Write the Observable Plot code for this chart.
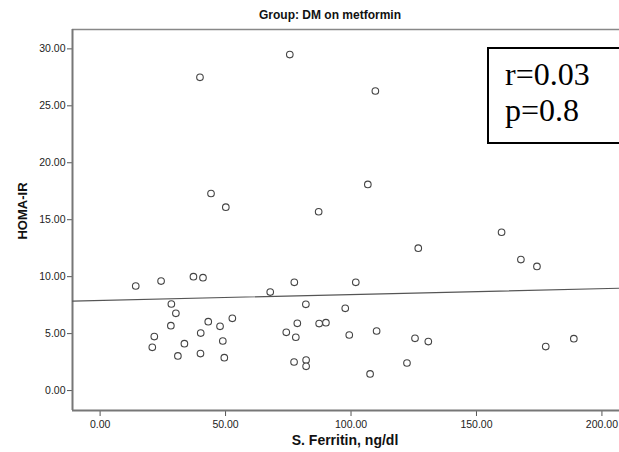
<!DOCTYPE html>
<html><head><meta charset="utf-8">
<script src="https://cdn.jsdelivr.net/npm/d3@7"></script>
<script src="https://cdn.jsdelivr.net/npm/@observablehq/plot@0.6"></script>
<style>
body{margin:0;background:#fff;font-family:Arial,"Liberation Sans",sans-serif}
#wrap{position:relative;width:619px;height:452px;overflow:hidden;background:#fff}
#wrap svg{position:absolute;left:0;top:0}
.t{position:absolute;white-space:nowrap;font-weight:bold;color:#111;transform:translate(-50%,-50%)}
#box{position:absolute;left:487px;top:47px;width:200px;height:97px;border:2px solid #000;background:#fff;
 font-family:"Liberation Serif","Times New Roman",serif;font-size:32px;line-height:36px;color:#000;padding:7px 0 0 16px;box-sizing:border-box}
</style></head><body>
<div id="wrap"></div>
<script>
const ferritin = [44.2,50.1,87.1,14.2,24.3,37.2,41.0,67.8,77.4,28.4,30.2,82.0,97.7,52.7,43.1,47.8,28.2,78.6,87.3,90.0,40.1,21.6,74.2,78.0,99.3,48.9,33.6,20.8,31.0,40.0,49.5,77.3,82.1,82.1,75.6,39.8,109.7,106.7,160.0,126.8,167.7,174.1,101.9,110.2,125.5,130.8,177.6,188.8,122.3,107.6];
const homa     = [17.3,16.1,15.7,9.18,9.61,10.0,9.91,8.65,9.5,7.6,6.78,7.57,7.22,6.34,6.05,5.64,5.7,5.9,5.88,5.96,5.05,4.74,5.11,4.68,4.88,4.35,4.12,3.8,3.04,3.25,2.89,2.51,2.68,2.13,29.5,27.5,26.3,18.1,13.9,12.5,11.5,10.9,9.5,5.23,4.59,4.3,3.86,4.56,2.42,1.46];
const xTicks = [0,50,100,150,200];
const yTicks = [0,5,10,15,20,25,30];
const chartTitle = "Group: DM on metformin";
const xLabel = "S. Ferritin, ng/dl";
const yLabel = "HOMA-IR";
const statLines = ["r=0.03","p=0.8"];

const data = ferritin.map((f,i)=>({x:f,y:homa[i]}));
const xDomain = [-11, 207];
const yDomain = [-1.75, 31.7];
// least-squares fit line computed from the data
const mx = d3.mean(ferritin), my = d3.mean(homa);
const slope = d3.sum(data, d=>(d.x-mx)*(d.y-my)) / d3.sum(data, d=>(d.x-mx)**2);
const intercept = my - slope*mx;
const fit = xDomain.map(x=>({x, y: intercept + slope*x}));

const chart = Plot.plot({
  width:619, height:452, marginLeft:72, marginRight:0, marginTop:29, marginBottom:42,
  x:{domain:xDomain}, y:{domain:yDomain},
  style:{fontFamily:"Arial, 'Liberation Sans', sans-serif", fontSize:"10.5px", color:"#222", background:"#fff"},
  marks:[
    Plot.axisX(xTicks,{tickFormat:d3.format(".2f"), tickSize:6, tickPadding:4, stroke:"#555", fill:"#222", label:null}),
    Plot.axisY(yTicks,{tickFormat:d3.format(".2f"), tickSize:5, tickPadding:2, stroke:"#555", fill:"#222", label:null}),
    Plot.ruleY([yDomain[0]],{stroke:"#777",strokeWidth:2}),
    Plot.ruleY([yDomain[1]],{stroke:"#888",strokeWidth:1.5}),
    Plot.ruleX([xDomain[0]],{stroke:"#777",strokeWidth:2}),
    Plot.line(fit,{x:"x",y:"y",stroke:"#555",strokeWidth:1.2}),
    Plot.dot(data,{x:"x",y:"y",r:3.3,stroke:"#444",fill:"white",strokeWidth:1.1})
  ]
});
const wrap = document.getElementById("wrap");
wrap.appendChild(chart);
function addText(txt, cls, style){const d=document.createElement("div");d.className=cls;d.textContent=txt;d.setAttribute("style",style);wrap.appendChild(d);return d;}
addText(chartTitle,"t","left:330px;top:15px;font-size:12px");
addText(xLabel,"t","left:345px;top:440px;font-size:14px");
addText(yLabel,"t","left:22px;top:211px;font-size:13px;transform:translate(-50%,-50%) rotate(-90deg)");
const box=document.createElement("div");box.id="box";
box.innerHTML=statLines.map(s=>`<div>${s}</div>`).join("");
wrap.appendChild(box);
</script>
</body></html>
